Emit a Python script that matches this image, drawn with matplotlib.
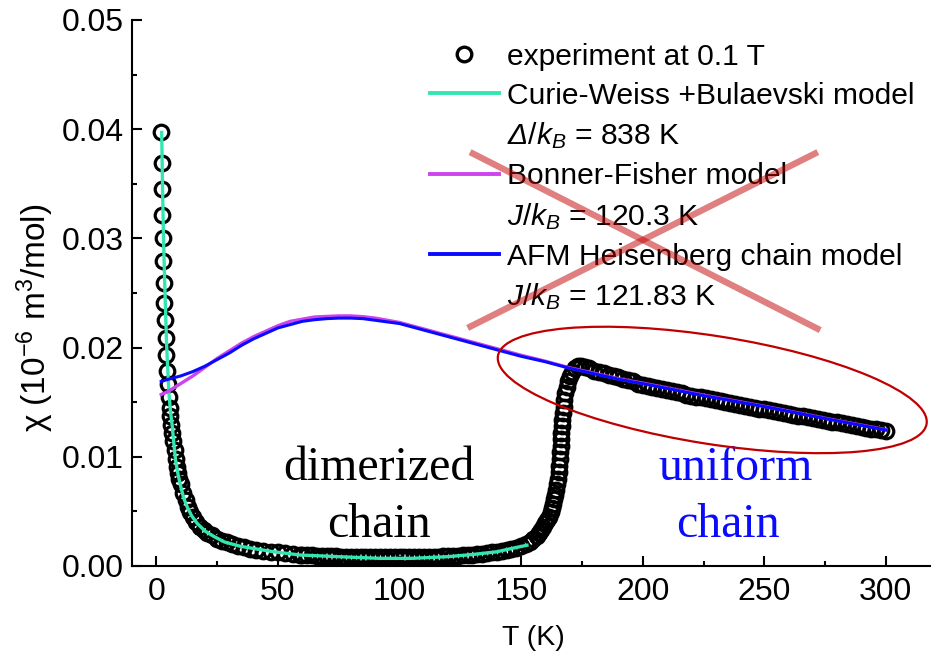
import matplotlib
matplotlib.use('Agg')
import matplotlib.pyplot as plt
import matplotlib.transforms as mtransforms
from matplotlib.lines import Line2D
from matplotlib.patches import Ellipse
from matplotlib.ticker import MultipleLocator, FormatStrFormatter

plt.rcParams.update({
    'font.family': 'Liberation Sans',
    'mathtext.fontset': 'custom',
    'mathtext.rm': 'Liberation Sans',
    'mathtext.it': 'Liberation Sans:italic',
    'mathtext.bf': 'Liberation Sans:bold',
    # 'it' keeps Greek capitals upright, so the italic Delta goes through 'sf'
    'mathtext.sf': 'Liberation Sans:italic',
})

# measured susceptibility (0.1 T), split by temperature range
t_low = [2.0, 2.15, 2.3, 2.5, 2.7, 2.9, 3.1, 3.35, 3.6, 3.85, 4.15, 4.45, 4.75, 5.1, 5.45,
         5.8, 6.2, 6.6, 7.0, 7.5, 8.0, 8.5, 9.0, 9.5, 10, 11, 12, 13, 14, 15, 16.5, 18,
         19.5, 21, 23, 25, 27, 29, 31, 33.5, 36, 38.5, 41, 44, 47, 50, 53, 56, 59]
chi_low = [0.0397, 0.0369, 0.0345, 0.0321, 0.0300, 0.0279, 0.0259, 0.0241, 0.0225, 0.0209,
           0.0193, 0.0179, 0.0167, 0.0155, 0.0145, 0.0137, 0.0129, 0.0122, 0.0114, 0.0106,
           0.0098, 0.0091, 0.0085, 0.0080, 0.0075, 0.0067, 0.0060, 0.0054, 0.0049, 0.0045,
           0.0040, 0.0036, 0.0033, 0.0030, 0.0028, 0.0025, 0.0023, 0.0022, 0.0020, 0.0018,
           0.0017, 0.0016, 0.0015, 0.0014, 0.0013, 0.00125, 0.0012, 0.0011, 0.00105]

t_dimer = [60, 62, 64, 66, 68, 70, 72, 74, 76, 78, 80, 82, 84, 86, 88, 90, 92, 94, 96, 98,
           100, 102, 104, 106, 108, 110, 112, 114, 116, 118, 120, 122, 124, 126, 128, 130,
           132, 134, 136, 138, 140, 142, 144, 146, 148, 150, 152, 153.5, 155, 156.5, 157.5]
chi_dimer = [0.00103, 0.00100, 0.00097, 0.00095, 0.00093, 0.00091, 0.00089, 0.00087, 0.00086,
             0.00084, 0.00083, 0.00082, 0.00081, 0.00080, 0.00079, 0.00079, 0.00078, 0.00078,
             0.00078, 0.00078, 0.00078, 0.00079, 0.00079, 0.00080, 0.00081, 0.00082, 0.00083,
             0.00085, 0.00086, 0.00088, 0.00090, 0.00092, 0.00095, 0.00098, 0.00101, 0.00105,
             0.00109, 0.00113, 0.00118, 0.00124, 0.00130, 0.00137, 0.00145, 0.00155, 0.00167,
             0.00182, 0.00200, 0.00220, 0.00245, 0.00275, 0.00300]

t_jump = [158.3, 159.2, 160.0, 160.8, 161.6, 162.2, 162.7, 163.2, 163.7, 164.1, 164.5, 164.8,
          165.1, 165.4, 165.6, 165.8, 166.0, 166.2, 166.4, 166.6, 166.8, 167.0, 167.2, 167.5,
          167.8, 168.2, 168.7, 169.3, 170.0, 170.9, 172.0, 173.3, 174.8, 176.3, 178]
chi_jump = [0.0033, 0.0036, 0.0039, 0.0042, 0.0045, 0.0049, 0.0053, 0.0057, 0.0061, 0.0065,
            0.0070, 0.0075, 0.0080, 0.0086, 0.0092, 0.0098, 0.0104, 0.0110, 0.0116, 0.0122,
            0.0128, 0.0134, 0.0140, 0.0146, 0.0152, 0.0158, 0.0164, 0.0169, 0.0174, 0.0178,
            0.0181, 0.0183, 0.0183, 0.0182, 0.0181]

t_uniform = [180, 182, 184, 186, 188, 190, 192, 194, 196, 198, 200, 202, 204, 206, 208, 210,
             212, 214, 216, 218, 220, 222, 224, 226, 228, 230, 232, 234, 236, 238, 240, 242,
             244, 246, 248, 250, 252, 254, 256, 258, 260, 262, 264, 266, 268, 270, 272, 274,
             276, 278, 280, 282, 284, 286, 288, 290, 292, 294, 296, 298, 300]
chi_uniform = [0.0179, 0.0178, 0.0177, 0.0175, 0.0174, 0.0173, 0.0171, 0.0170, 0.0169, 0.0167,
               0.0166, 0.0165, 0.0164, 0.0163, 0.0162, 0.0161, 0.0160, 0.0159, 0.0158, 0.0157,
               0.0156, 0.01552, 0.01543, 0.01534, 0.01525, 0.01516, 0.01507, 0.01498, 0.01490,
               0.01482, 0.01474, 0.01466, 0.01458, 0.01450, 0.01442, 0.01434, 0.01426, 0.01418,
               0.01410, 0.01402, 0.01394, 0.01386, 0.01378, 0.01370, 0.01362, 0.01354, 0.01346,
               0.01338, 0.01330, 0.01322, 0.01314, 0.01306, 0.01298, 0.01290, 0.01282, 0.01274,
               0.01266, 0.01258, 0.01250, 0.01242, 0.01234]

# Curie-Weiss + Bulaevski fit (dimerized phase)
t_cw = [2.2, 2.6, 3.0, 3.5, 4.2, 4.5, 5.2, 5.8, 6.6, 7.2, 7.9, 9.0, 10, 11.3, 12.7, 14.5,
        16.8, 20, 23.7, 28, 34.6, 40, 48.3, 59.3, 65, 75, 92, 105, 119.6, 130, 140, 146, 152.4]
chi_cw = [0.0397, 0.0340, 0.0296, 0.0255, 0.0204, 0.0189, 0.0158, 0.0142, 0.0127, 0.0112,
          0.0097, 0.0083, 0.0073, 0.0062, 0.0054, 0.0046, 0.0039, 0.0032, 0.0027, 0.0022,
          0.0018, 0.0016, 0.0013, 0.0010, 0.00095, 0.00085, 0.0007, 0.0007, 0.00085, 0.00105,
          0.0013, 0.0016, 0.0019]

# chain fits over the whole range
t_chain = [2, 5, 10, 15, 20, 25, 30, 35, 40, 45, 50, 55, 60, 65, 70, 75, 80, 85, 90, 95, 100,
           110, 120, 130, 140, 150, 160, 170, 180, 190, 200, 225, 250, 275, 300]
chi_bf = [0.0157, 0.0160, 0.0167, 0.0174, 0.0182, 0.0190, 0.0197, 0.0204, 0.0210, 0.0215,
          0.0220, 0.0224, 0.0226, 0.0228, 0.02285, 0.0229, 0.0229, 0.02283, 0.0227, 0.0225,
          0.0223, 0.0217, 0.0211, 0.0205, 0.0199, 0.0193, 0.01875, 0.01815, 0.01765, 0.01715,
          0.01675, 0.01565, 0.01463, 0.01353, 0.01248]
chi_heis = [0.0169, 0.0171, 0.0174, 0.0178, 0.0183, 0.0189, 0.0195, 0.0202, 0.0208, 0.0213,
            0.0218, 0.0221, 0.0224, 0.02255, 0.02265, 0.0227, 0.0227, 0.02265, 0.0225, 0.02235,
            0.0222, 0.0216, 0.0210, 0.0204, 0.0198, 0.0192, 0.0187, 0.0181, 0.0176, 0.0171,
            0.0167, 0.0156, 0.0146, 0.0135, 0.01245]

t_exp = t_low + t_dimer + t_jump + t_uniform
chi_exp = chi_low + chi_dimer + chi_jump + chi_uniform

green = '#33e6b0'
magenta = '#cc44ee'
blue = '#0a0aff'
darkred = '#c00000'

fig = plt.figure(figsize=(9.31, 6.55), dpi=100)
ax = fig.add_axes([0.1418, 0.1359, 0.862, 0.8336])

ax.plot(t_exp, chi_exp, ls='none', marker='o', mfc='none', mec='k', ms=10.5, mew=2.3, zorder=2)
ax.plot(t_cw, chi_cw, color=green, lw=2.4, zorder=3)
ax.plot(t_chain, chi_bf, color=magenta, lw=2.4, zorder=3)
ax.plot(t_chain, chi_heis, color=blue, lw=2.2, zorder=3)

ax.set_xlim(-10, 320)
ax.set_ylim(0, 0.05)
ax.xaxis.set_major_locator(MultipleLocator(50))
ax.xaxis.set_minor_locator(MultipleLocator(25))
ax.yaxis.set_major_locator(MultipleLocator(0.01))
ax.yaxis.set_minor_locator(MultipleLocator(0.005))
ax.yaxis.set_major_formatter(FormatStrFormatter('%.2f'))
ax.tick_params(which='both', direction='in', width=1.5, labelsize=23)
ax.tick_params(which='major', length=7)
ax.tick_params(which='minor', length=3.5)
ax.tick_params(axis='x', pad=8)
ax.tick_params(axis='y', pad=6)
for side in ['top', 'right']:
    ax.spines[side].set_visible(False)
for side in ['left', 'bottom']:
    ax.spines[side].set_linewidth(1.5)

ax.set_xlabel('T (K)', fontsize=20.5, labelpad=13)
ax.set_ylabel(r'χ (10$^{-6}$ m$^{3}$/mol)', fontsize=24, labelpad=4)
ax.yaxis.label.set_y(0.455)

blank = Line2D([], [], color='none')
handles = [Line2D([], [], ls='none', marker='o', mfc='none', mec='k', ms=10.5, mew=2.4),
           Line2D([], [], color=green, lw=2.8), blank,
           Line2D([], [], color=magenta, lw=2.8), blank,
           Line2D([], [], color=blue, lw=2.8), blank]
labels = ['experiment at 0.1 T',
          'Curie-Weiss +Bulaevski model',
          r'$\mathsf{\Delta}\mathit{/k_B}$ = 838 K',
          'Bonner-Fisher model',
          r'$\mathit{J/k_B}$ = 120.3 K',
          'AFM Heisenberg chain model',
          r'$\mathit{J/k_B}$ = 121.83 K']
ax.legend(handles, labels, loc='upper left', bbox_to_anchor=(0.3713, 0.958), frameon=False,
          fontsize=21.6, handlelength=2.3, handletextpad=0.26, labelspacing=0.36,
          borderpad=0, borderaxespad=0)

# cross over the rejected chain models
ax.plot([129, 273], [0.0379, 0.0216], color=darkred, alpha=0.5, lw=4.6, solid_capstyle='butt', zorder=6)
ax.plot([128, 272], [0.0218, 0.0379], color=darkred, alpha=0.5, lw=4.6, solid_capstyle='butt', zorder=6)

# ellipse around the uniform-chain data, sized in inches
trans = fig.dpi_scale_trans + mtransforms.ScaledTranslation(228.6, 0.01612, ax.transData)
ax.add_patch(Ellipse((0, 0), 4.34, 1.08, angle=-9, transform=trans, fill=False,
                     ec=darkred, lw=1.6, zorder=4))

ax.text(91.5, 0.00788, 'dimerized', family='Liberation Serif', fontsize=34.5, ha='center', va='baseline')
ax.text(91.5, 0.00266, 'chain', family='Liberation Serif', fontsize=34.5, ha='center', va='baseline')
ax.text(238, 0.00788, 'uniform', family='Liberation Serif', fontsize=34.5, color=blue, ha='center', va='baseline')
ax.text(235, 0.00266, 'chain', family='Liberation Serif', fontsize=34.5, color=blue, ha='center', va='baseline')

fig.savefig('out.png', dpi=100)
